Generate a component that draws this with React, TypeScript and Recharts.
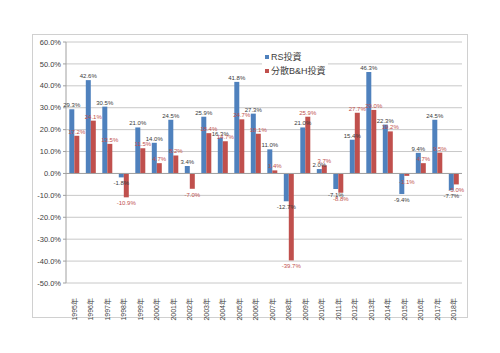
import { BarChart, Bar, XAxis, YAxis, CartesianGrid, ReferenceLine, LabelList } from 'recharts';

const years = ['1995年', '1996年', '1997年', '1998年', '1999年', '2000年', '2001年', '2002年', '2003年', '2004年', '2005年', '2006年', '2007年', '2008年', '2009年', '2010年', '2011年', '2012年', '2013年', '2014年', '2015年', '2016年', '2017年', '2018年'];
const rsValues = [29.3, 42.6, 30.5, -1.8, 21.0, 14.0, 24.5, 3.4, 25.9, 16.3, 41.8, 27.3, 11.0, -12.7, 21.0, 2.0, -7.1, 15.4, 46.3, 22.3, -9.4, 9.4, 24.5, -7.7];
const bhValues = [17.2, 24.1, 13.5, -10.9, 11.5, 4.7, 8.2, -7.0, 18.4, 14.7, 24.7, 18.1, 1.4, -39.7, 25.9, 3.7, -8.8, 27.7, 29.0, 19.2, -1.1, 4.7, 9.5, -5.0];
const yTicks = [-50, -40, -30, -20, -10, 0, 10, 20, 30, 40, 50, 60];

const data = years.map((year, i) => ({ year, rs: rsValues[i], bh: bhValues[i] }));

const FONT = '"Liberation Sans", "Noto Sans CJK JP", sans-serif';
const BLUE = '#4f81bd';
const RED = '#c0504d';

function makeLabel(color: string) {
  return function BarLabel(props: any) {
    const { x, y, width, height, value } = props;
    const top = Math.min(y, y + height);
    const bottom = Math.max(y, y + height);
    const ty = value >= 0 ? top - 2 : bottom + 8;
    return (
      <text x={x + width / 2} y={ty} textAnchor="middle" fontSize={6} fill={color} fontFamily={FONT}>
        {value.toFixed(1)}%
      </text>
    );
  };
}

function YearTick({ x, y, payload }: any) {
  return (
    <text
      x={x}
      y={y + 7}
      transform={`rotate(-90 ${x} ${y + 7})`}
      textAnchor="end"
      dy="0.35em"
      fontSize={7}
      fill="#404040"
      fontFamily={FONT}
    >
      {payload.value}
    </text>
  );
}

export default function App() {
  return (
    <div style={{ position: 'absolute', left: 0, top: 0, width: 500, height: 353, background: '#fff' }}>
      <div style={{ position: 'absolute', left: 32, top: 34, width: 434, height: 282, border: '1px solid #d0d0d0' }} />
      <BarChart
        width={500}
        height={353}
        data={data}
        margin={{ top: 42, right: 38, left: 0, bottom: 0 }}
        barCategoryGap="20%"
        barGap={0}
        style={{ position: 'absolute', left: 0, top: 0 }}
      >
        <CartesianGrid vertical={false} stroke="#c8c8c8" />
        <XAxis dataKey="year" interval={0} height={70} axisLine={false} tickLine={false} tick={<YearTick />} />
        <YAxis
          domain={[-50, 60]}
          ticks={yTicks}
          width={66}
          interval={0}
          tickFormatter={(v: number) => `${v.toFixed(1)}%`}
          tick={{ fontSize: 7.5, fill: '#404040', fontFamily: FONT }}
          axisLine={{ stroke: '#a0a0a0' }}
          tickLine={{ stroke: '#a0a0a0' }}
          tickSize={3}
        />
        <ReferenceLine y={0} stroke="#a0a0a0" />
        <Bar dataKey="rs" fill={BLUE} isAnimationActive={false}>
          <LabelList dataKey="rs" content={makeLabel('#3a3a3a')} />
        </Bar>
        <Bar dataKey="bh" fill={RED} isAnimationActive={false}>
          <LabelList dataKey="bh" content={makeLabel(RED)} />
        </Bar>
      </BarChart>
      <div
        style={{
          position: 'absolute',
          left: 262,
          top: 50,
          width: 66,
          height: 30,
          background: '#fff',
          fontFamily: FONT,
          fontSize: 9,
          color: '#404040',
          lineHeight: '14px',
        }}
      >
        <div style={{ display: 'flex', alignItems: 'center' }}>
          <span style={{ width: 4, height: 4, background: BLUE, marginLeft: 3, marginRight: 2 }} />
          RS投資
        </div>
        <div style={{ display: 'flex', alignItems: 'center' }}>
          <span style={{ width: 4, height: 4, background: RED, marginLeft: 3, marginRight: 2 }} />
          分散B&amp;H投資
        </div>
      </div>
    </div>
  );
}
